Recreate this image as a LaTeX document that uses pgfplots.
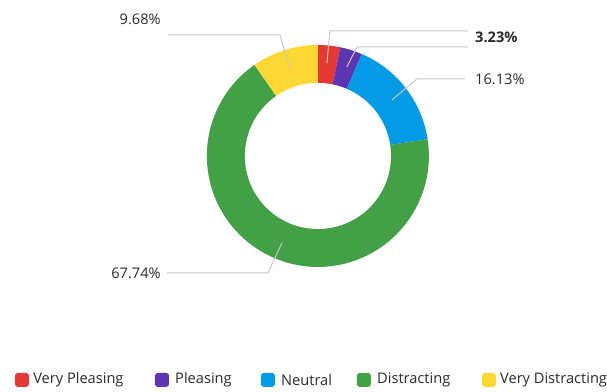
\documentclass[border=0pt]{standalone}
\usepackage{fontspec}
\setmainfont{Open Sans}
\usepackage{pgfplots}
\usepackage{pgfplotstable}
\pgfplotsset{compat=1.18}
\definecolor{cVP}{HTML}{E53935}
\definecolor{cP}{HTML}{5E35B1}
\definecolor{cN}{HTML}{039BE5}
\definecolor{cD}{HTML}{43A047}
\definecolor{cVD}{HTML}{FDD835}
\definecolor{lead}{HTML}{C8C8C8}
\definecolor{txt}{HTML}{2A2A2A}
\pgfplotstableread{
label value col
VeryPleasing 3.23 cVP
Pleasing 3.23 cP
Neutral 16.13 cN
Distracting 67.74 cD
VeryDistracting 9.68 cVD
}\piedata
\begin{document}
\begin{tikzpicture}[every node/.style={text=txt, font=\fontsize{10.4}{12}\selectfont, inner sep=0pt}]
\begin{axis}[x=0.025cm, y=0.025cm, xmin=0, xmax=607, ymin=0, ymax=392,
  hide axis, clip=false, disabledatascaling]
\path (axis cs:0,0) rectangle (axis cs:607,392);
\pgfmathsetmacro{\astart}{90}
\pgfplotstablegetrowsof{\piedata}
\pgfmathtruncatemacro{\nrows}{\pgfplotsretval-1}
\pgfplotsforeachungrouped \i in {0,...,\nrows}{
  \pgfplotstablegetelem{\i}{value}\of\piedata \let\val\pgfplotsretval
  \pgfplotstablegetelem{\i}{col}\of\piedata \let\col\pgfplotsretval
  \pgfmathsetmacro{\aend}{\astart-(\val/100.01)*360}
  \pgfmathsetmacro{\xs}{318+111*cos(\astart)}
  \pgfmathsetmacro{\ys}{236+111*sin(\astart)}
  \edef\cmd{\noexpand\fill[\col] (axis cs:318,236) -- (axis cs:\xs,\ys) arc[start angle=\astart, end angle=\aend, radius=2.775cm] -- cycle;}
  \cmd
  \global\let\astart\aend
}
\fill[white] (axis cs:318,236) circle[radius=1.825cm];
% leader lines
\draw[lead, line width=0.7pt] (axis cs:290,324) -- (axis cs:280,357) -- (axis cs:168,357);
\draw[lead, line width=0.7pt] (axis cs:327,329) -- (axis cs:330,361) -- (axis cs:468,361);
\draw[lead, line width=0.7pt] (axis cs:347,325) -- (axis cs:357,345) -- (axis cs:468,345);
\draw[lead, line width=0.7pt] (axis cs:392,292) -- (axis cs:417,313) -- (axis cs:465,313);
\draw[lead, line width=0.7pt] (axis cs:282,149) -- (axis cs:268,119) -- (axis cs:167,119);
% labels
\node[anchor=east] at (axis cs:161,373) {9.68\%};
\node[anchor=west] at (axis cs:475,355) {\bfseries 3.23\%};
\node[anchor=west] at (axis cs:475,313) {16.13\%};
\node[anchor=east] at (axis cs:161,119) {67.74\%};
% legend
\fill[cVP, rounded corners=2pt] (axis cs:15,5) rectangle (axis cs:29,19);
\node[anchor=west] at (axis cs:33,12) {Very Pleasing};
\fill[cP, rounded corners=2pt] (axis cs:155,5) rectangle (axis cs:169,19);
\node[anchor=west] at (axis cs:175,12) {Pleasing};
\fill[cN, rounded corners=2pt] (axis cs:261,5) rectangle (axis cs:275,19);
\node[anchor=west] at (axis cs:281,12) {Neutral};
\fill[cD, rounded corners=2pt] (axis cs:357,5) rectangle (axis cs:371,19);
\node[anchor=west] at (axis cs:377,12) {Distracting};
\fill[cVD, rounded corners=2pt] (axis cs:482,5) rectangle (axis cs:496,19);
\node[anchor=west] at (axis cs:500,12) {Very Distracting};
\end{axis}
\end{tikzpicture}
\end{document}
